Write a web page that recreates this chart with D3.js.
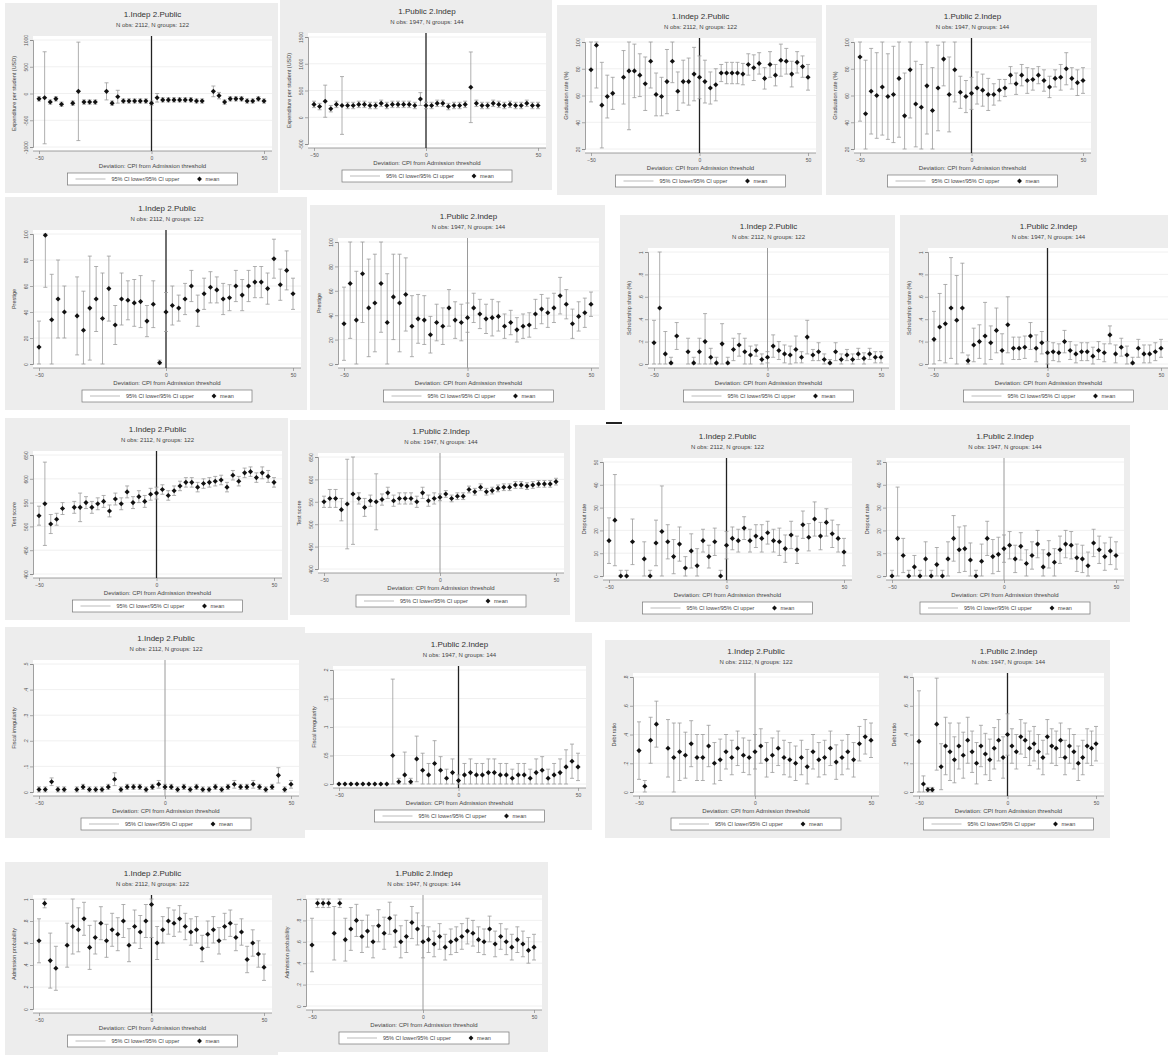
<!DOCTYPE html>
<html>
<head>
<meta charset="utf-8">
<script src="https://cdn.jsdelivr.net/npm/d3@7"></script>
<style>
body { margin: 0; background: #fff; }
text { font-family: "Liberation Sans", Arial, sans-serif; }
</style>
</head>
<body>
<script>
// x categories: deviation from admission threshold
var xVals = [-50,-47.5,-45,-42.5,-40,-37.5,-35,-32.5,-30,-27.5,-25,-22.5,-20,-17.5,-15,-12.5,-10,-7.5,-5,-2.5,0,
             2.5,5,7.5,10,12.5,15,17.5,20,22.5,25,27.5,30,32.5,35,37.5,40,42.5,45,47.5,50];
var xTicks = [-50, 0, 50];

var titles = ["1.Indep 2.Public", "1.Public 2.Indep"];
var subtitles = ["N obs: 2112, N groups: 122", "N obs: 1947, N groups: 144"];
var xTitle = "Deviation: CPI from Admission threshold";
var legendCI = "95% CI lower/95% CI upper";
var legendMean = "mean";

var yTitles = ["Expenditure per student (USD)", "Graduation rate (%)", "Prestige", "Scholarship share (%)",
               "Test score", "Dropout rate", "Fiscal irregularity", "Debt ratio", "Admission probability"];

// y tick labels (spread evenly on each panel's axis)
var tk1 = ["-1000","-500","0","500","1000"];
var tk2 = ["-500","0","500","1000","1500"];
var tk3 = ["20","40","60","80","100"];
var tk4 = ["0","20","40","60","80","100"];
var tk5 = ["0",".2",".4",".6",".8","1"];
var tk6 = ["0","10","20","30","40","50"];
var tk7 = ["400","450","500","550","600","650"];
var tk8 = ["0",".1",".2",".3",".4",".5"];
var tk9 = ["0",".05",".1",".15",".2"];
var tk10 = ["0",".2",".4",".6",".8"];

// means (share of axis range, %) and CI half widths
var m1 = [45,46,42,45,40,null,41,52,42,42,42,null,52,41,47,43,43,43,43,43,41,46,44,44,44,44,44,44,43,43,null,52,48,42,45,45,45,43,43,45,43];
var e1 = [2,43,2,2,2,0,2,46,2,2,2,0,8,2,6,2,2,2,2,2,2,4,2,2,2,2,2,2,2,2,0,5,3,2,2,2,2,2,2,2,2];
var m2 = [37,35,40,33,37,36,36,36,37,37,36,36,38,36,37,37,37,37,36,42,36,36,38,38,35,36,36,37,53,38,36,36,38,37,36,37,36,36,38,36,36];
var e2 = [3,3,15,3,3,27,3,3,3,3,3,3,3,3,3,3,3,3,3,6,3,3,3,3,3,3,3,3,33,3,3,3,3,3,3,3,3,3,3,3,3];
var m3 = [74,97,41,49,52,null,67,73,73,69,61,82,51,49,63,82,54,63,63,70,67,63,57,60,71,71,71,71,70,79,76,80,66,79,69,83,82,70,81,77,67];
var e3 = [30,40,40,20,15,0,25,55,25,20,25,25,20,18,30,20,18,20,22,25,20,20,15,15,8,10,10,10,10,10,12,10,10,12,10,15,12,12,10,10,12];
var m4 = [86,33,54,50,58,49,51,66,31,74,42,39,59,36,57,84,51,74,53,49,52,57,55,51,51,55,57,69,61,69,64,65,69,64,58,66,67,75,66,62,64];
var e4 = [60,50,40,40,45,40,45,55,40,45,40,40,45,40,40,25,35,30,15,15,15,15,15,15,10,10,8,8,10,10,12,10,8,10,10,8,12,15,10,12,12];
var m5 = [13,99,34,50,40,null,37,26,43,50,35,58,30,50,49,47,48,33,46,1,40,45,43,50,60,41,54,59,57,50,51,60,53,60,63,63,58,81,61,72,54];
var e5 = [20,40,35,30,20,0,30,30,40,25,35,25,15,20,15,18,20,12,18,2,15,15,10,12,12,12,12,12,10,12,10,12,12,12,12,12,12,15,12,15,12];
var m6 = [33,66,36,74,46,50,66,34,55,50,57,31,37,36,24,34,31,46,36,34,38,46,41,37,38,39,31,34,28,31,32,41,45,42,46,56,49,33,39,42,49];
var e6 = [30,45,40,40,40,40,40,40,35,40,30,25,20,20,15,15,15,15,15,15,12,12,12,12,15,12,10,10,10,10,10,12,12,12,12,15,12,12,12,12,10];
var m7 = [19,50,9,1,25,null,11,1,11,20,6,1,18,1,13,17,11,8,12,4,6,16,12,9,8,13,6,24,8,11,4,1,11,4,8,4,9,5,9,6,6];
var e7 = [20,50,20,5,12,0,12,5,12,25,8,5,18,5,10,10,12,8,5,5,5,10,8,8,8,12,5,15,5,8,5,3,8,5,5,5,5,5,5,5,5];
var m8 = [22,33,36,50,39,50,3,17,20,25,19,30,12,35,14,14,15,25,14,19,10,11,10,20,12,9,11,11,7,12,10,26,9,15,8,1,14,9,9,11,14];
var e8 = [25,30,35,45,40,40,5,15,15,30,15,20,15,25,10,10,10,12,12,10,10,8,8,10,8,8,8,8,8,8,8,8,8,8,8,5,8,8,8,8,8];
var m9 = [49,59,42,46,55,null,56,56,60,56,59,61,53,63,59,69,60,65,61,67,68,71,66,70,74,77,77,73,76,77,78,79,73,83,78,85,86,81,85,82,77];
var e9 = [8,35,8,5,5,0,5,12,5,5,5,5,5,5,5,5,5,5,5,5,5,4,4,4,4,4,4,4,4,4,4,4,4,4,4,4,4,4,5,5,4];
var m10 = [60,63,63,53,58,67,63,55,61,60,62,68,61,63,63,63,60,68,61,63,64,67,63,65,65,71,69,73,69,70,72,73,73,75,75,74,75,76,76,76,78];
var e10 = [5,8,8,10,40,45,5,8,5,25,5,5,5,5,5,5,5,5,5,5,3,3,3,3,3,3,3,3,3,3,3,3,3,3,3,3,3,3,3,3,3];
var m11 = [31,49,0,0,30,null,15,0,29,39,30,17,28,7,22,9,31,17,30,0,27,33,31,42,31,35,33,38,31,30,24,36,23,45,34,50,35,47,37,33,21];
var e11 = [20,40,5,5,20,0,15,5,20,40,15,15,15,10,15,15,10,10,12,5,12,10,10,10,10,10,12,10,10,12,12,12,12,12,12,15,12,12,12,12,12];
var m12 = [0,33,18,0,8,0,15,0,10,0,15,33,23,24,14,0,13,33,17,19,24,27,15,26,11,18,28,8,19,12,23,28,27,16,15,9,29,23,17,22,18];
var e12 = [5,45,15,5,10,5,15,5,15,5,15,20,20,20,15,5,15,15,15,15,12,12,12,12,12,12,12,15,12,12,12,12,12,12,12,12,12,12,12,12,12];
var m13 = [2,2,8,2,2,null,2,4,2,2,2,4,10,2,4,4,4,2,4,6,4,4,2,4,2,4,2,2,4,2,4,6,4,4,6,4,2,4,13,2,6];
var e13 = [2,2,3,2,2,0,2,2,2,2,2,2,5,2,2,2,2,2,2,3,2,2,2,2,2,2,2,2,2,2,2,3,2,2,3,2,2,2,6,2,3];
var m14 = [0,0,0,0,0,0,0,0,0,25,2,8,2,22,12,8,18,12,5,10,3,8,10,8,8,10,10,8,8,5,8,8,5,10,12,5,8,10,15,20,15];
var e14 = [0,0,0,0,0,0,0,0,0,67,3,20,3,20,15,10,20,12,8,12,5,10,12,10,10,12,12,10,10,8,10,10,8,12,12,8,10,12,15,15,12];
var m15 = [36,5,45,59,null,38,30,35,32,42,30,30,40,25,28,35,30,38,32,30,35,40,28,32,38,30,28,25,30,22,35,28,30,38,26,30,35,28,42,48,45];
var e15 = [25,5,20,20,0,25,30,25,20,20,20,20,18,18,18,15,15,15,15,15,15,15,15,15,15,15,15,15,15,15,15,15,15,15,15,15,15,15,15,15,15];
var m16 = [44,7,2,2,59,22,40,35,28,40,32,45,35,25,40,33,28,38,45,30,50,40,35,48,45,38,42,35,30,48,40,38,45,30,40,35,25,30,40,38,42];
var e16 = [44,7,2,2,40,20,25,25,20,20,20,20,18,18,18,18,18,18,18,18,18,15,15,15,15,15,15,15,15,15,15,15,15,15,15,15,15,15,15,15,15];
var m17 = [62,96,44,37,null,58,75,72,82,56,65,78,62,72,68,80,58,75,70,80,95,60,72,80,78,82,75,70,72,55,68,72,62,75,78,65,70,45,60,50,38];
var e17 = [20,4,25,20,0,20,25,20,15,20,15,15,15,15,15,15,15,15,15,15,30,15,12,12,12,12,12,12,12,12,12,12,12,12,12,12,12,12,12,12,12];
var m18 = [57,96,96,96,68,96,62,72,80,65,70,60,75,68,82,70,60,65,78,72,60,62,58,65,55,60,62,65,70,68,62,60,72,58,65,60,55,62,58,52,55];
var e18 = [25,4,4,4,25,4,20,20,15,15,15,15,15,15,15,15,15,15,15,15,15,12,12,12,12,12,12,12,12,12,12,12,12,12,12,12,12,12,12,12,12];

var svg = d3.select("body").append("svg")
            .attr("width", 1168)
            .attr("height", 1055);

//panel table: box = [left, top, width, height], dark = darker zero line
var panels = [
  {box:[5,3,273,190],   k:0, yt:0, ticks:tk1, mean:m1,  err:e1,  dark:true},
  {box:[280,0,272,190], k:1, yt:0, ticks:tk2, mean:m2,  err:e2,  dark:true},
  {box:[557,5,265,190], k:0, yt:1, ticks:tk3, mean:m3,  err:e3,  dark:true},
  {box:[826,5,271,190], k:1, yt:1, ticks:tk3, mean:m4,  err:e4,  dark:true},
  {box:[5,197,302,213], k:0, yt:2, ticks:tk4, mean:m5,  err:e5,  dark:true},
  {box:[310,205,295,205], k:1, yt:2, ticks:tk4, mean:m6, err:e6, dark:false},
  {box:[620,215,275,195], k:0, yt:3, ticks:tk5, mean:m7, err:e7, dark:false},
  {box:[900,215,275,195], k:1, yt:3, ticks:tk5, mean:m8, err:e8, dark:true},
  {box:[5,418,283,202],   k:0, yt:4, ticks:tk7, mean:m9,  err:e9,  dark:true},
  {box:[290,420,280,195], k:1, yt:4, ticks:tk7, mean:m10, err:e10, dark:false},
  {box:[575,425,283,197], k:0, yt:5, ticks:tk6, mean:m11, err:e11, dark:true},
  {box:[858,425,272,197], k:1, yt:5, ticks:tk6, mean:m12, err:e12, dark:false},
  {box:[5,627,300,211],   k:0, yt:6, ticks:tk8, mean:m13, err:e13, dark:false},
  {box:[305,633,287,197], k:1, yt:6, ticks:tk9, mean:m14, err:e14, dark:true},
  {box:[605,640,280,198], k:0, yt:7, ticks:tk10, mean:m15, err:e15, dark:false},
  {box:[885,640,225,198], k:1, yt:7, ticks:tk10, mean:m16, err:e16, dark:true},
  {box:[5,862,273,193],   k:0, yt:8, ticks:tk5, mean:m17, err:e17, dark:true},
  {box:[278,862,270,190], k:1, yt:8, ticks:tk5, mean:m18, err:e18, dark:false}
];

panels.forEach(function(p){ drawPanel(p); });

//small stray dash between panels
svg.append("rect").attr("x", 606).attr("y", 422).attr("width", 16).attr("height", 2).attr("fill", "#222");

function drawPanel(p){
    var w = p.box[2], h = p.box[3];
    var g = svg.append("g").attr("transform", "translate(" + p.box[0] + "," + p.box[1] + ")");
    var L = 28, T = 33, R = w - 6, B = h - 42;

    g.append("rect").attr("width", w).attr("height", h).attr("fill", "#ededed");
    g.append("rect").attr("x", L).attr("y", T).attr("width", R - L).attr("height", B - T).attr("fill", "#fff");

    var x = d3.scaleLinear().domain([-50, 50]).range([L + 6, R - 8]);
    var y = d3.scaleLinear().domain([0, 100]).range([B - 4, T + 4]);
    var tv = p.ticks.map(function(d, i){ return i * 100 / (p.ticks.length - 1); });

    //grid
    g.selectAll("line.grid").data(tv).enter().append("line")
     .attr("x1", L).attr("x2", R)
     .attr("y1", function(d){ return y(d); }).attr("y2", function(d){ return y(d); })
     .attr("stroke", "#ececec").attr("stroke-width", 0.8);

    //y axis with vertical labels
    var ya = g.append("g").attr("transform", "translate(" + L + ",0)")
              .call(d3.axisLeft(y).tickValues(tv).tickSize(3)
                      .tickFormat(function(d, i){ return p.ticks[i]; }));
    ya.selectAll("text").attr("x", 0).attr("dy", 0)
      .attr("transform", "rotate(-90) translate(0,-5)")
      .attr("text-anchor", "middle");
    styleAxis(ya);

    var xa = g.append("g").attr("transform", "translate(0," + B + ")")
              .call(d3.axisBottom(x).tickValues(xTicks).tickSize(3));
    xa.selectAll("text").attr("y", 5);
    xa.select(".domain").attr("d", "M" + L + ",0H" + R);
    styleAxis(xa);

    //zero line
    g.append("line").attr("x1", x(0)).attr("x2", x(0)).attr("y1", T).attr("y2", B)
     .attr("stroke", p.dark ? "#222" : "#9a9a9a").attr("stroke-width", p.dark ? 1.3 : 1);

    //CIs
    var pts = xVals.map(function(v, i){ return {x: v, m: p.mean[i], e: p.err[i]}; })
                   .filter(function(d){ return d.m !== null; });
    var ci = g.append("g").attr("stroke", "#9c9c9c").attr("stroke-width", 0.8);
    pts.forEach(function(d){
        if(d.e <= 0) return;
        var lo = y(Math.max(0, d.m - d.e)), hi = y(Math.min(100, d.m + d.e)), cx = x(d.x);
        ci.append("line").attr("x1", cx).attr("x2", cx).attr("y1", lo).attr("y2", hi);
        ci.append("line").attr("x1", cx - 2).attr("x2", cx + 2).attr("y1", lo).attr("y2", lo);
        ci.append("line").attr("x1", cx - 2).attr("x2", cx + 2).attr("y1", hi).attr("y2", hi);
    });

    //means
    g.selectAll("path.mk").data(pts).enter().append("path")
     .attr("d", d3.symbol(d3.symbolSquare, 13))
     .attr("transform", function(d){ return "translate(" + x(d.x) + "," + y(d.m) + ") rotate(45)"; })
     .attr("fill", "#111");

    var cxm = (L + R) / 2;
    g.append("text").attr("x", cxm).attr("y", 14).attr("text-anchor", "middle")
     .attr("font-size", 8).attr("fill", "#333").text(titles[p.k]);
    g.append("text").attr("x", cxm).attr("y", 24).attr("text-anchor", "middle")
     .attr("font-size", 6).attr("fill", "#444").text(subtitles[p.k]);

    g.append("text").attr("transform", "translate(11," + ((T + B) / 2) + ") rotate(-90)")
     .attr("text-anchor", "middle").attr("font-size", 5.5).attr("fill", "#444").text(yTitles[p.yt]);

    g.append("text").attr("x", cxm).attr("y", B + 17).attr("text-anchor", "middle")
     .attr("font-size", 6).attr("fill", "#444").text(xTitle);

    //legend
    var lw = 170, lx = cxm - lw / 2, ly = B + 22;
    g.append("rect").attr("x", lx).attr("y", ly).attr("width", lw).attr("height", 12)
     .attr("fill", "#fff").attr("stroke", "#777").attr("stroke-width", 0.7);
    g.append("line").attr("x1", lx + 8).attr("x2", lx + 38).attr("y1", ly + 6).attr("y2", ly + 6)
     .attr("stroke", "#aaa").attr("stroke-width", 0.8);
    g.append("text").attr("x", lx + 44).attr("y", ly + 8).attr("font-size", 5.5).attr("fill", "#444").text(legendCI);
    g.append("path").attr("d", d3.symbol(d3.symbolSquare, 12))
     .attr("transform", "translate(" + (lx + 132) + "," + (ly + 6) + ") rotate(45)").attr("fill", "#111");
    g.append("text").attr("x", lx + 138).attr("y", ly + 8).attr("font-size", 5.5).attr("fill", "#444").text(legendMean);
}

function styleAxis(a){
    a.select(".domain").attr("stroke", "#888").attr("stroke-width", 0.8);
    a.selectAll(".tick line").attr("stroke", "#888").attr("stroke-width", 0.7);
    a.selectAll("text").attr("font-size", 5).attr("fill", "#555").attr("font-family", "Liberation Sans, Arial, sans-serif");
}
</script>
</body>
</html>
